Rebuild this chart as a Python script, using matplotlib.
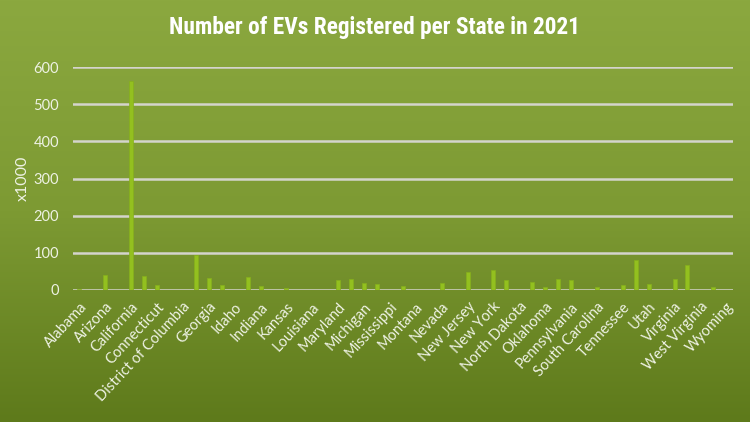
import matplotlib
matplotlib.use("Agg")
import matplotlib.pyplot as plt
import numpy as np
from matplotlib.colors import LinearSegmentedColormap

states = ["Alabama", "Alaska", "Arizona", "Arkansas", "California", "Colorado",
          "Connecticut", "Delaware", "District of Columbia", "Florida", "Georgia",
          "Hawaii", "Idaho", "Illinois", "Indiana", "Iowa", "Kansas", "Kentucky",
          "Louisiana", "Maine", "Maryland", "Massachusetts", "Michigan", "Minnesota",
          "Mississippi", "Missouri", "Montana", "Nebraska", "Nevada", "New Hampshire",
          "New Jersey", "New Mexico", "New York", "North Carolina", "North Dakota",
          "Ohio", "Oklahoma", "Oregon", "Pennsylvania", "Rhode Island",
          "South Carolina", "South Dakota", "Tennessee", "Texas", "Utah", "Vermont",
          "Virginia", "Washington", "West Virginia", "Wisconsin", "Wyoming"]
evs_thousands = [4, 0, 40, 0, 563, 37, 13, 0, 0, 95, 32, 13, 0, 35, 10, 0, 5, 0,
                 0, 0, 26, 29, 19, 16, 0, 10, 0, 0, 19, 0, 48, 0, 54, 26, 0, 21, 8,
                 29, 26, 0, 8, 0, 13, 80, 16, 0, 29, 67, 0, 8, 0]
yticks = [0, 100, 200, 300, 400, 500, 600]

fig = plt.figure(figsize=(7.5, 4.22), dpi=100)

# gradient background
bg = fig.add_axes([0, 0, 1, 1], zorder=0)
cmap = LinearSegmentedColormap.from_list("g", ["#8ba83f", "#7d9a33", "#5e7a1b"])
grad = np.linspace(0, 1, 256).reshape(-1, 1)
bg.imshow(grad, aspect="auto", cmap=cmap, extent=[0, 1, 0, 1])
bg.axis("off")

ax = fig.add_axes([0.0973, 0.3128, 0.8797, 0.5284], zorder=1)
ax.patch.set_alpha(0)
x = np.arange(len(states))
ax.bar(x, evs_thousands, width=0.31, color="#93c01f", edgecolor="#86b01c",
       linewidth=0.5, zorder=3)
ax.set_xlim(-0.5, len(states) - 0.5)
ax.set_ylim(0, 600)
ax.set_yticks(yticks)
ax.yaxis.grid(True, color="#d4d4cc", linewidth=1.8, zorder=1)
ax.set_axisbelow(True)
for s in ax.spines.values():
    s.set_visible(False)

lab_font = ["Lato", "DejaVu Sans"]
ax.set_xticks(x[::2])
ax.set_xticklabels(states[::2], rotation=47, ha="right", rotation_mode="anchor",
                   fontsize=10.5, color="#eef2e4", family=lab_font)
ax.tick_params(axis="both", length=0)
ax.tick_params(axis="x", pad=7)
ax.tick_params(axis="y", pad=10)
for t in ax.get_yticklabels():
    t.set_fontsize(10.5)
    t.set_color("#eef2e4")
    t.set_family(lab_font)

fig.text(23 / 750, 1 - 178.5 / 422, "x1000", rotation=90, ha="center", va="center",
         fontsize=11.5, color="#eef2e4", family=lab_font)

fig.text(0.499, 0.936, "Number of EVs Registered per State in 2021",
         ha="center", va="center", fontsize=16.8, fontweight="bold", color="white",
         family=["Roboto Condensed", "DejaVu Sans"])

fig.savefig("out.png", dpi=100)
